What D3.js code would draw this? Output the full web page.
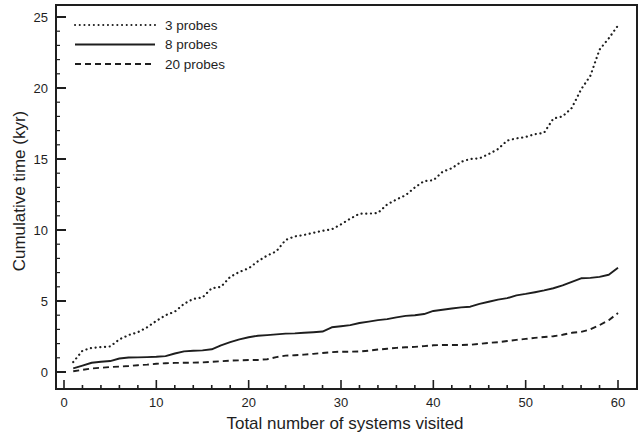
<!DOCTYPE html>
<html>
<head>
<meta charset="utf-8">
<script src="https://cdn.jsdelivr.net/npm/d3@7"></script>
<style>
  body { margin: 0; background: #fff; }
  svg { display: block; font-family: "Liberation Sans", Arial, Helvetica, sans-serif; }
</style>
</head>
<body>
<svg id="chart" width="642" height="437"></svg>
<script>
// cumulative time (kyr) after each system visited
const systems = d3.range(1, 61);
const probes3 = [0.7, 1.5, 1.7, 1.75, 1.8, 2.3, 2.6, 2.8, 3.15, 3.6,
  4.0, 4.25, 4.8, 5.15, 5.25, 5.9, 6.0, 6.7, 7.05, 7.3,
  7.8, 8.2, 8.5, 9.3, 9.55, 9.65, 9.8, 9.95, 10.05, 10.4,
  10.8, 11.15, 11.15, 11.2, 11.8, 12.15, 12.45, 13.0, 13.45, 13.5,
  14.1, 14.35, 14.8, 15.0, 15.05, 15.35, 15.7, 16.3, 16.45, 16.55,
  16.75, 16.85, 17.85, 18.0, 18.6, 19.9, 20.85, 22.7, 23.5, 24.4];
const probes8 = [0.25, 0.45, 0.65, 0.72, 0.77, 0.95, 1.02, 1.03, 1.05, 1.07,
  1.12, 1.3, 1.45, 1.5, 1.52, 1.6, 1.88, 2.1, 2.3, 2.45,
  2.55, 2.6, 2.65, 2.7, 2.72, 2.76, 2.8, 2.85, 3.15, 3.22,
  3.3, 3.45, 3.55, 3.65, 3.72, 3.85, 3.95, 4.0, 4.08, 4.3,
  4.38, 4.47, 4.55, 4.6, 4.8, 4.95, 5.1, 5.2, 5.4, 5.5,
  5.62, 5.75, 5.9, 6.1, 6.35, 6.6, 6.63, 6.7, 6.85, 7.35];
const probes20 = [0.05, 0.15, 0.25, 0.3, 0.35, 0.38, 0.42, 0.48, 0.52, 0.58,
  0.62, 0.64, 0.65, 0.66, 0.68, 0.72, 0.76, 0.8, 0.82, 0.84,
  0.85, 0.9, 1.05, 1.15, 1.18, 1.22, 1.28, 1.34, 1.4, 1.43,
  1.43, 1.44, 1.5, 1.58, 1.64, 1.7, 1.74, 1.77, 1.82, 1.88,
  1.9, 1.9, 1.9, 1.92, 1.98, 2.05, 2.1, 2.18, 2.26, 2.33,
  2.4, 2.46, 2.52, 2.62, 2.76, 2.82, 3.0, 3.3, 3.65, 4.15];

const seriesNames = ['3 probes', '8 probes', '20 probes'];
const seriesValues = [probes3, probes8, probes20];
const dashes = ['0.1,4.6', null, '6,4'];

const xMajor = [0, 10, 20, 30, 40, 50, 60];
const yMajor = [0, 5, 10, 15, 20, 25];

const ink = '#1e1e1e';
const svg = d3.select('#chart');

const box = { left: 56, right: 637, top: 5, bottom: 389 };
const x = d3.scaleLinear().domain([0, 60]).range([64, 618]);
const y = d3.scaleLinear().domain([0, 25]).range([372, 17]);

// frame
svg.append('rect')
  .attr('x', box.left).attr('y', box.top)
  .attr('width', box.right - box.left).attr('height', box.bottom - box.top)
  .attr('fill', 'none').attr('stroke', ink).attr('stroke-width', 2);

// x ticks pointing inward from the bottom edge
const xAxis = svg.append('g').attr('transform', `translate(0,${box.bottom})`);
xAxis.selectAll('line.minor').data(d3.range(0, 61, 2)).join('line')
  .attr('x1', d => x(d)).attr('x2', d => x(d))
  .attr('y1', 0).attr('y2', d => d % 10 === 0 ? -9 : -4)
  .attr('stroke', ink).attr('stroke-width', 1.6);
xAxis.selectAll('text').data(xMajor).join('text')
  .attr('x', d => x(d)).attr('y', 18)
  .attr('text-anchor', 'middle').attr('font-size', 13).attr('fill', ink)
  .text(d => d);

// y ticks pointing inward from the left edge
const yAxis = svg.append('g').attr('transform', `translate(${box.left},0)`);
yAxis.selectAll('line').data(d3.range(0, 26)).join('line')
  .attr('y1', d => y(d)).attr('y2', d => y(d))
  .attr('x1', 0).attr('x2', d => d % 5 === 0 ? 10 : 4)
  .attr('stroke', ink).attr('stroke-width', d => d % 5 === 0 ? 2 : 1.2);
yAxis.selectAll('text').data(yMajor).join('text')
  .attr('x', -8).attr('y', d => y(d)).attr('dy', '0.35em')
  .attr('text-anchor', 'end').attr('font-size', 13).attr('fill', ink)
  .text(d => d);

// axis titles
svg.append('text')
  .attr('x', 345).attr('y', 429)
  .attr('text-anchor', 'middle').attr('font-size', 17).attr('fill', ink)
  .text('Total number of systems visited');
svg.append('text')
  .attr('transform', 'translate(25,191) rotate(-90)')
  .attr('text-anchor', 'middle').attr('font-size', 17).attr('fill', ink)
  .text('Cumulative time (kyr)');

// series
const line = d3.line().x((d, i) => x(systems[i])).y(d => y(d));
seriesValues.forEach((vals, k) => {
  svg.append('path')
    .datum(vals)
    .attr('d', line)
    .attr('fill', 'none')
    .attr('stroke', ink)
    .attr('stroke-width', k === 0 ? 2.2 : 1.9)
    .attr('stroke-linecap', k === 0 ? 'round' : 'butt')
    .attr('stroke-linejoin', 'round')
    .attr('stroke-dasharray', dashes[k]);
});

// legend
const legend = svg.append('g');
seriesNames.forEach((name, k) => {
  const ly = 25 + k * 19.5;
  legend.append('line')
    .attr('x1', 75).attr('x2', 155).attr('y1', ly).attr('y2', ly)
    .attr('stroke', ink)
    .attr('stroke-width', k === 0 ? 2 : 1.9)
    .attr('stroke-linecap', k === 0 ? 'round' : 'butt')
    .attr('stroke-dasharray', dashes[k]);
  legend.append('text')
    .attr('x', 165).attr('y', ly).attr('dy', '0.35em')
    .attr('font-size', 13.5).attr('fill', ink)
    .text(name);
});
</script>
</body>
</html>
